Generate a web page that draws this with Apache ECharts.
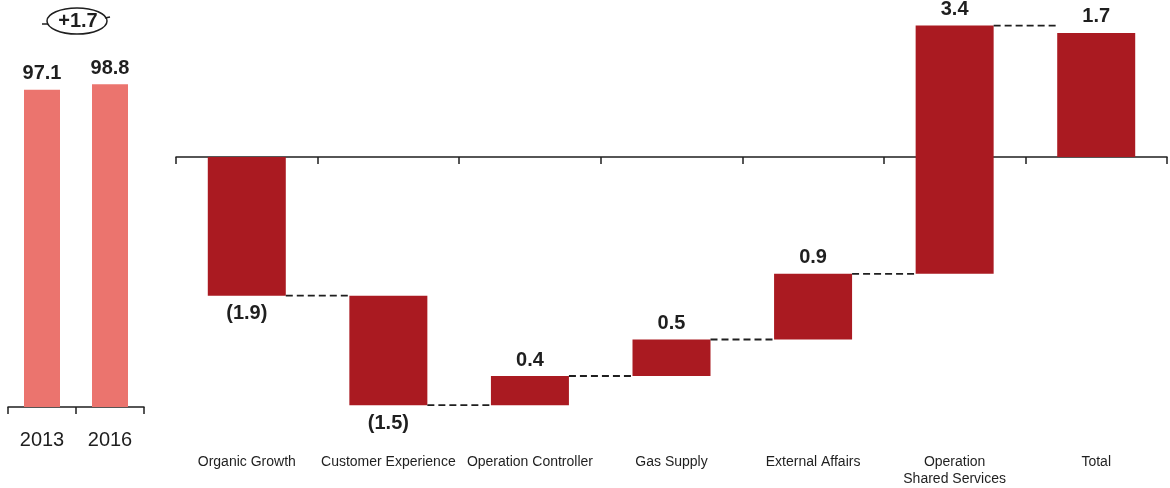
<!DOCTYPE html>
<html>
<head>
<meta charset="utf-8">
<script src="https://cdn.jsdelivr.net/npm/echarts@6/dist/echarts.min.js"></script>
<style>
  html, body { margin: 0; padding: 0; background: #ffffff; }
  #chart { width: 1170px; height: 488px; }
</style>
</head>
<body>
<div id="chart"></div>
<script>
// Year totals (left panel)
const years = ['2013', '2016'];
const yearTotals = [97.1, 98.8];

// Change bridge (right panel); the last entry is the overall total
const categories = [
  'Organic Growth',
  'Customer Experience',
  'Operation Controller',
  'Gas Supply',
  'External Affairs',
  'Operation\nShared Services',
  'Total'
];
const changes = [-1.9, -1.5, 0.4, 0.5, 0.9, 3.4, 1.7];

const FONT = '"Liberation Sans", Arial, sans-serif';
const BAR_W = 78;
const DARK_RED = '#AA1A21';
const SALMON = '#EB746E';
const INK = '#1f1f1f';

// Invisible offsets so each change floats at the running total
const bases = [];
const connectors = [];
let running = 0;
changes.forEach((v, i) => {
  const isTotal = i === changes.length - 1;
  bases.push(isTotal ? 0 : running);
  if (!isTotal) {
    running = Math.round((running + v) * 100) / 100;
    connectors.push([i, running]);
  }
});

const fmtChange = v => (v < 0 ? '(' + Math.abs(v).toFixed(1) + ')' : v.toFixed(1));
const yearDiff = yearTotals[1] - yearTotals[0];

const chart = echarts.init(document.getElementById('chart'), null, { renderer: 'canvas' });

chart.setOption({
  animation: false,
  backgroundColor: '#ffffff',
  textStyle: { fontFamily: FONT },
  grid: [
    { left: 8, top: 15, width: 136, bottom: 81 },
    { left: 176, right: 3, top: 11, bottom: 39 }
  ],
  xAxis: [
    {
      gridIndex: 0,
      type: 'category',
      data: years,
      axisLine: { lineStyle: { color: INK, width: 1.5 } },
      axisTick: { show: true, interval: 0, length: 7, lineStyle: { color: INK, width: 1.5 } },
      axisLabel: { color: INK, fontSize: 20, fontFamily: FONT, margin: 23 }
    },
    {
      gridIndex: 1,
      type: 'category',
      data: categories,
      position: 'bottom',
      axisLine: { onZero: true, lineStyle: { color: INK, width: 1.5 } },
      axisTick: { show: true, interval: 0, length: 7, lineStyle: { color: INK, width: 1.5 } },
      axisLabel: { show: false }
    },
    {
      gridIndex: 1,
      type: 'category',
      data: categories,
      position: 'bottom',
      axisLine: { show: false, onZero: false },
      axisTick: { show: false },
      axisLabel: {
        color: INK, fontSize: 14, fontFamily: FONT, margin: 5,
        lineHeight: 17, interval: 0, align: 'center'
      }
    }
  ],
  yAxis: [
    { gridIndex: 0, type: 'value', min: 0, max: 120, show: false },
    { gridIndex: 1, type: 'value', min: -4, max: 2, show: false }
  ],
  series: [
    {
      type: 'bar',
      xAxisIndex: 0,
      yAxisIndex: 0,
      data: yearTotals,
      barWidth: 36,
      itemStyle: { color: SALMON },
      label: {
        show: true, position: 'top', distance: 6,
        color: INK, fontSize: 20, fontWeight: 'bold', fontFamily: FONT,
        formatter: p => p.value.toFixed(1)
      }
    },
    {
      type: 'bar',
      xAxisIndex: 1,
      yAxisIndex: 1,
      stack: 'bridge',
      stackStrategy: 'all',
      data: bases,
      barWidth: BAR_W,
      itemStyle: { color: 'transparent' },
      emphasis: { disabled: true },
      silent: true
    },
    {
      type: 'bar',
      xAxisIndex: 1,
      yAxisIndex: 1,
      stack: 'bridge',
      stackStrategy: 'all',
      data: changes.map(v => ({
        value: v,
        label: { position: v < 0 ? 'bottom' : 'top', distance: v < 0 ? 8 : 6 }
      })),
      barWidth: BAR_W,
      itemStyle: { color: DARK_RED },
      label: {
        show: true,
        color: INK, fontSize: 20, fontWeight: 'bold', fontFamily: FONT,
        formatter: p => fmtChange(p.value)
      }
    },
    {
      type: 'custom',
      xAxisIndex: 1,
      yAxisIndex: 1,
      data: connectors,
      silent: true,
      z: 5,
      renderItem: (params, api) => {
        const i = api.value(0);
        const level = api.value(1);
        const a = api.coord([i, level]);
        const b = api.coord([i + 1, level]);
        return {
          type: 'line',
          shape: { x1: a[0] + BAR_W / 2, y1: a[1], x2: b[0] - BAR_W / 2, y2: b[1] },
          style: { stroke: INK, lineWidth: 1.8, lineDash: [7, 4] }
        };
      }
    }
  ],
  graphic: [
    {
      type: 'ellipse',
      shape: { cx: 77, cy: 21, rx: 30, ry: 13 },
      style: { fill: 'none', stroke: INK, lineWidth: 1.5 }
    },
    {
      type: 'line',
      shape: { x1: 42, y1: 24, x2: 48, y2: 24 },
      style: { stroke: INK, lineWidth: 1.5 }
    },
    {
      type: 'line',
      shape: { x1: 105, y1: 18, x2: 110, y2: 17 },
      style: { stroke: INK, lineWidth: 1.5 }
    },
    {
      type: 'text',
      x: 78,
      y: 21,
      style: {
        text: (yearDiff >= 0 ? '+' : '') + yearDiff.toFixed(1),
        font: 'bold 20px ' + FONT,
        fill: INK,
        align: 'center',
        verticalAlign: 'middle'
      }
    }
  ]
});
</script>
</body>
</html>
